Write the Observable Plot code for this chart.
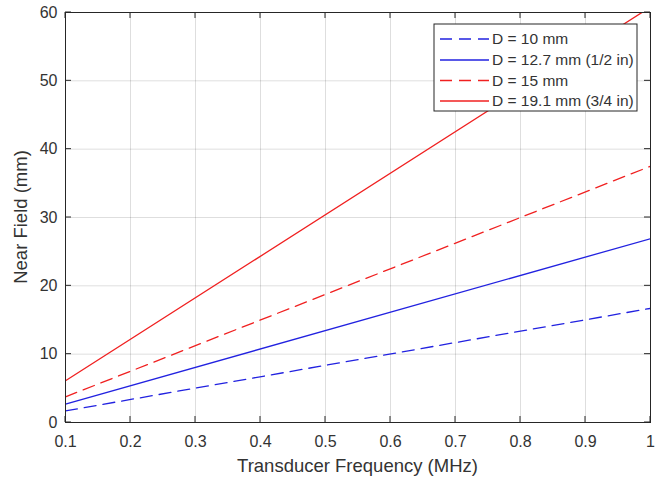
<!DOCTYPE html>
<html>
<head>
<meta charset="utf-8">
<script src="https://cdn.jsdelivr.net/npm/d3@7"></script>
<script src="https://cdn.jsdelivr.net/npm/@observablehq/plot@0.6"></script>
<style>
  html, body { margin: 0; padding: 0; background: #fff; }
  #chart { width: 666px; height: 479px; }
</style>
</head>
<body>
<div id="chart"></div>
<script>
// ---- data ----
const frequencies = [0.1, 1.0];                  // MHz (endpoints of the straight lines)
const seriesNames = ["D = 10 mm", "D = 12.7 mm (1/2 in)", "D = 15 mm", "D = 19.1 mm (3/4 in)"];
const nf10   = [1.7, 16.7];
const nf127  = [2.7, 26.9];
const nf15   = [3.75, 37.5];
const nf191  = [6.1, 60.8];
const seriesValues = [nf10, nf127, nf15, nf191];
const xTicks = [0.1, 0.2, 0.3, 0.4, 0.5, 0.6, 0.7, 0.8, 0.9, 1.0];
const yTicks = [0, 10, 20, 30, 40, 50, 60];

// styles (kept separate from data)
const colors = ["#2222e0", "#2222e0", "#f02020", "#f02020"];
const dashes = ["12,7", null, "12,7", null];

const rows = [];
seriesNames.forEach((name, i) => {
  frequencies.forEach((f, j) => rows.push({series: name, f, v: seriesValues[i][j], idx: i}));
});

const W = 666, H = 479;
const mL = 65, mR = 16, mT = 12, mB = 57;
const FONT = "'Liberation Sans', Arial, Helvetica, sans-serif";
const TXT = "#333";

const marks = [
  Plot.gridX(xTicks, {stroke: "#000", strokeOpacity: 0.13}),
  Plot.gridY(yTicks, {stroke: "#000", strokeOpacity: 0.13}),
];
seriesNames.forEach((name, i) => {
  marks.push(Plot.line(rows.filter(r => r.idx === i), {
    x: "f", y: "v", stroke: colors[i], strokeWidth: 1.3,
    strokeDasharray: dashes[i] || undefined, clip: true
  }));
});
marks.push(
  Plot.axisX(xTicks, {anchor: "bottom", tickSize: 0, tickPadding: 13,
    tickFormat: d => d === 1 ? "1" : d3.format(".1f")(d),
    fontSize: 16, fill: TXT, label: null}),
  Plot.axisY(yTicks, {anchor: "left", tickSize: 0, tickPadding: 8,
    fontSize: 16, fill: TXT, label: null}),
  Plot.frame({stroke: "#262626", strokeWidth: 1})
);

const plot = Plot.plot({
  width: W, height: H,
  marginLeft: mL, marginRight: mR, marginTop: mT, marginBottom: mB,
  style: {fontFamily: FONT, background: "#fff", overflow: "visible"},
  x: {domain: [0.1, 1.0], label: null},
  y: {domain: [0, 60], label: null},
  marks
});
document.getElementById("chart").appendChild(plot);

const svg = d3.select(plot);
const xs = plot.scale("x"), ys = plot.scale("y");
const x0 = mL, x1 = W - mR, y0 = mT, y1 = H - mB;

// inward ticks on all four sides (MATLAB box style)
const tg = svg.append("g").attr("stroke", "#262626").attr("stroke-width", 1);
const tl = 6;
xTicks.forEach(t => {
  const x = xs.apply(t);
  tg.append("line").attr("x1", x).attr("x2", x).attr("y1", y1).attr("y2", y1 - tl);
  tg.append("line").attr("x1", x).attr("x2", x).attr("y1", y0).attr("y2", y0 + tl);
});
yTicks.forEach(t => {
  const y = ys.apply(t);
  tg.append("line").attr("x1", x0).attr("x2", x0 + tl).attr("y1", y).attr("y2", y);
  tg.append("line").attr("x1", x1).attr("x2", x1 - tl).attr("y1", y).attr("y2", y);
});

// axis titles
svg.append("text").attr("x", (x0 + x1) / 2).attr("y", 472)
  .attr("text-anchor", "middle").attr("font-size", 18.5).attr("fill", TXT)
  .attr("font-family", FONT).text("Transducer Frequency (MHz)");
svg.append("text").attr("transform", `translate(22,${(y0 + y1) / 2}) rotate(-90)`)
  .attr("text-anchor", "middle").attr("dominant-baseline", "middle")
  .attr("font-size", 18.5).attr("fill", TXT)
  .attr("font-family", FONT).text("Near Field (mm)");

// legend
const lg = svg.append("g");
const lx = 434, ly = 24, lw = 203, lh = 87;
lg.append("rect").attr("x", lx).attr("y", ly).attr("width", lw).attr("height", lh)
  .attr("fill", "#fff").attr("stroke", "#262626").attr("stroke-width", 1);
const rowY = [39, 60, 80.5, 101];
seriesNames.forEach((name, i) => {
  lg.append("line").attr("x1", lx + 6).attr("x2", lx + 55).attr("y1", rowY[i]).attr("y2", rowY[i])
    .attr("stroke", colors[i]).attr("stroke-width", 1.3)
    .attr("stroke-dasharray", dashes[i] || null);
  lg.append("text").attr("x", lx + 58).attr("y", rowY[i]).attr("dy", "0.35em")
    .attr("text-anchor", "start")
    .attr("font-size", 15.5).attr("fill", TXT).attr("font-family", FONT).text(name);
});
</script>
</body>
</html>
